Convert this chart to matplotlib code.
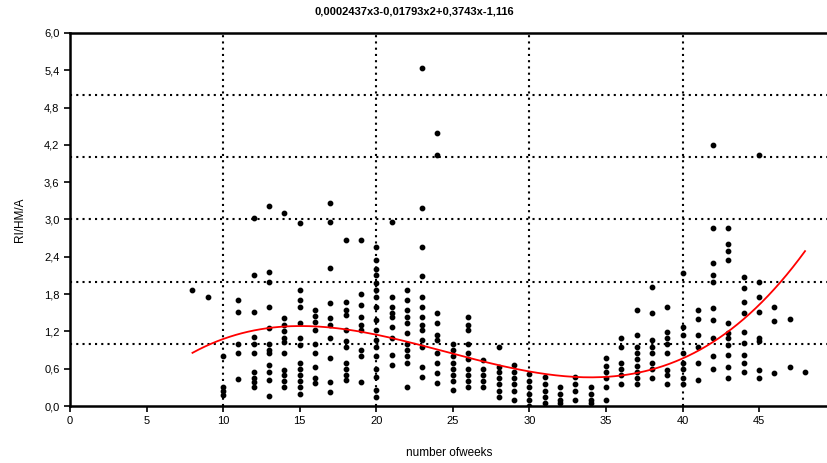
import matplotlib.pyplot as plt
import numpy as np

plt.rcParams['font.family'] = ['Liberation Sans', 'DejaVu Sans']

# -------------------------------
# Data (week -> RI/HM/A values)
# -------------------------------
weeks_data = {
    8: [1.87],
    9: [1.75],
    10: [0.8, 0.3, 0.25, 0.18],
    11: [1.70, 1.51, 1.0, 0.85, 0.43],
    12: [3.02, 2.1, 1.51, 1.11, 1.0, 0.85, 0.55, 0.45, 0.38, 0.30],
    13: [3.22, 2.15, 2.0, 1.59, 1.25, 1.0, 0.9, 0.85, 0.66, 0.55, 0.42, 0.16],
    14: [3.1, 1.41, 1.3, 1.2, 1.1, 1.03, 0.85, 0.58, 0.5, 0.4, 0.3],
    15: [2.95, 1.86, 1.7, 1.6, 1.33, 1.1, 0.98, 0.7, 0.6, 0.5, 0.4, 0.3, 0.2],
    16: [1.55, 1.45, 1.35, 1.22, 1.0, 0.85, 0.63, 0.45, 0.37],
    17: [3.26, 2.96, 2.22, 1.65, 1.42, 1.3, 1.1, 0.77, 0.38, 0.22],
    18: [2.67, 1.67, 1.55, 1.46, 1.22, 1.05, 0.95, 0.7, 0.6, 0.5, 0.42],
    19: [2.67, 1.8, 1.62, 1.43, 1.3, 1.22, 0.9, 0.8, 0.38],
    20: [2.55, 2.35, 2.2, 2.1, 1.98, 1.86, 1.75, 1.6, 1.38, 1.22, 1.06, 0.95,
         0.8, 0.6, 0.47, 0.26, 0.15],
    21: [2.96, 1.75, 1.6, 1.5, 1.43, 1.27, 1.1, 0.82, 0.66],
    22: [1.87, 1.7, 1.55, 1.43, 1.33, 1.18, 1.0, 0.9, 0.8, 0.7, 0.3],
    23: [5.43, 3.18, 2.56, 2.09, 1.75, 1.6, 1.43, 1.3, 1.22, 1.06, 0.95, 0.63, 0.47],
    24: [4.39, 4.03, 1.5, 1.33, 1.14, 1.06, 0.85, 0.7, 0.53, 0.37],
    25: [1.0, 0.9, 0.8, 0.7, 0.6, 0.5, 0.4, 0.26],
    26: [1.43, 1.3, 1.22, 1.0, 0.85, 0.75, 0.6, 0.5, 0.4, 0.3],
    27: [0.74, 0.6, 0.5, 0.4, 0.3],
    28: [0.95, 0.63, 0.55, 0.45, 0.35, 0.25, 0.15],
    29: [0.66, 0.55, 0.45, 0.35, 0.25, 0.1],
    30: [0.52, 0.4, 0.3, 0.2, 0.1, 0.0],
    31: [0.47, 0.35, 0.25, 0.15, 0.05],
    32: [0.3, 0.2, 0.1, 0.05],
    33: [0.47, 0.35, 0.25, 0.1],
    34: [0.3, 0.2, 0.1, 0.05],
    35: [0.77, 0.65, 0.55, 0.45, 0.3, 0.1],
    36: [1.1, 0.95, 0.7, 0.6, 0.5, 0.35],
    37: [1.55, 1.14, 0.95, 0.85, 0.75, 0.65, 0.55, 0.45, 0.35],
    38: [1.92, 1.5, 1.06, 0.95, 0.85, 0.7, 0.6, 0.45],
    39: [1.6, 1.19, 1.1, 1.0, 0.85, 0.58, 0.5, 0.35],
    40: [2.14, 1.27, 1.14, 0.85, 0.7, 0.6, 0.45, 0.35],
    41: [1.55, 1.4, 1.14, 0.95, 0.7, 0.42],
    42: [4.2, 2.86, 2.3, 2.1, 2.0, 1.58, 1.38, 1.1, 0.8, 0.6],
    43: [2.86, 2.6, 2.5, 2.35, 1.33, 1.17, 1.1, 0.98, 0.82, 0.63, 0.45],
    44: [2.07, 1.9, 1.67, 1.49, 1.19, 1.01, 0.82, 0.7, 0.55],
    45: [4.03, 2.0, 1.75, 1.51, 1.1, 1.05, 0.58, 0.45],
    46: [1.6, 1.37, 0.53],
    47: [1.4, 0.63],
    48: [0.55],
}

# cubic fit shown in the title
coef = [0.0002437, -0.01793, 0.3743, -1.116]
fit_range = [8, 48]

x_pts = []
y_pts = []
for wk, vals in weeks_data.items():
    x_pts += [wk] * len(vals)
    y_pts += vals

# -------------------------------
# Plot
# -------------------------------
fig = plt.figure(figsize=(8.28, 4.63), dpi=100)
ax = fig.add_axes([0.0845, 0.123, 0.9155, 0.806])

for gx in [10, 20, 30, 40]:
    ax.axvline(gx, color='black', linestyle=(0, (1, 2)), linewidth=1.5, zorder=1)
for gy in [1, 2, 3, 4, 5]:
    ax.axhline(gy, color='black', linestyle=(0, (1, 2)), linewidth=1.5, zorder=1)

ax.scatter(x_pts, y_pts, s=10, color='black', zorder=3)

xf = np.linspace(fit_range[0], fit_range[1], 200)
ax.plot(xf, np.polyval(coef, xf), color='red', linewidth=1.3, zorder=4)

ax.set_xlim(0, 49.5)
ax.set_ylim(0, 6.0)
ax.set_xticks(range(0, 50, 5))
yt = np.round(np.arange(0, 6.01, 0.6), 1)
ax.set_yticks(yt)
ax.set_yticklabels([f"{v:.1f}".replace('.', ',') for v in yt])

ax.spines['right'].set_visible(False)
for s in ['left', 'bottom', 'top']:
    ax.spines[s].set_linewidth(1.8)
ax.tick_params(direction='out', length=4, width=1.2, labelsize=8)

ax.set_xlabel("number ofweeks", fontsize=8.5, labelpad=15)
ax.set_ylabel("RI/HM/A", fontsize=8.5, labelpad=13)
fig.text(0.5, 0.975, "0,0002437x3-0,01793x2+0,3743x-1,116",
         ha='center', va='center', fontsize=8, fontweight='bold')

plt.savefig("out.png", dpi=100)
